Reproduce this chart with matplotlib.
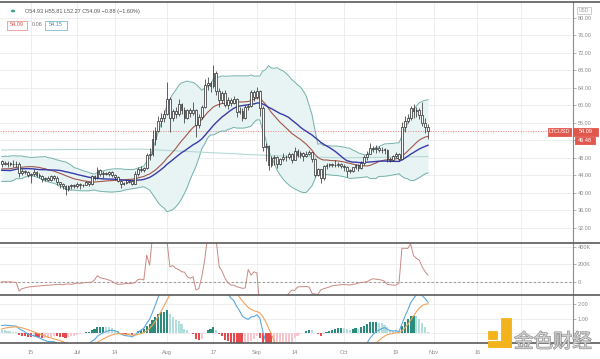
import numpy as np
import pandas as pd
import matplotlib
matplotlib.use("Agg")
import matplotlib.pyplot as plt
import matplotlib.patheffects as pe
from matplotlib.lines import Line2D
from matplotlib.patches import Rectangle, Circle

plt.rcParams['font.family'] = ['Liberation Sans', 'DejaVu Sans']

# daily LTCUSD candles, 2020-06-05 .. 2020-10-30
start_date = "2020-06-05"

# closes before the first candle, only used to warm up the indicators (not drawn)
warmup_close = [45.5, 47.6, 47.6, 46.9, 42.1, 41.5, 42.6, 44.1, 44.8, 43.3,
                45.2, 46.0, 46.9, 45.8, 44.0, 43.0, 44.8, 44.5, 43.2, 43.8,
                43.5, 45.4, 46.0, 45.2, 47.0, 45.5, 48.0, 46.0, 46.8, 47.3]

close = [
    # Jun 5-30
    46.6, 46.9, 46.6, 46.6, 46.5, 46.7, 44.6, 45.0, 44.8, 44.2, 44.3, 44.8, 44.2,
    43.9, 43.2, 43.3, 43.0, 43.8, 43.4, 42.4, 42.0, 41.6, 40.8, 41.5, 41.8, 41.5,
    # Jul
    42.0, 41.7, 41.9, 42.4, 42.1, 43.9, 43.4, 45.2, 44.4, 44.6, 44.3, 44.7, 44.0,
    43.6, 42.8, 42.0, 42.2, 42.5, 42.7, 42.1, 44.4, 45.4, 45.2, 45.6, 48.6, 48.8,
    52.4, 54.2, 56.4, 57.0, 58.0,
    # Aug
    61.4, 57.0, 58.6, 57.9, 60.2, 58.9, 57.2, 58.9, 58.2, 58.9, 55.6, 57.4, 59.6,
    64.6, 65.2, 64.5, 67.4, 63.2, 61.2, 62.8, 60.1, 61.2, 60.6, 61.4, 58.5, 58.8,
    57.2, 59.5, 59.8, 63.0, 61.8,
    # Sep
    63.3, 59.4, 50.4, 50.6, 46.3, 47.9, 48.1, 46.6, 47.7, 48.3, 48.1, 48.9, 47.6,
    49.6, 48.7, 49.0, 48.4, 48.9, 49.3, 47.7, 44.2, 45.4, 43.3, 46.1, 46.4, 46.6,
    46.4, 46.3, 46.7, 46.2,
    # Oct
    45.9, 45.1, 45.0, 45.8, 46.4, 45.6, 46.9, 48.1, 48.9, 50.3, 50.0, 50.2, 49.7,
    49.9, 49.8, 47.8, 47.5, 48.4, 48.9, 47.8, 55.1, 56.5, 57.2, 59.3, 58.6, 59.0,
    57.8, 56.0, 54.97, 54.09,
]
high = [
    47.6, 47.3, 47.2, 47.0, 47.4, 47.2, 47.0, 45.5, 45.3, 45.0, 44.6, 45.5, 45.0,
    44.5, 44.2, 43.6, 43.8, 44.2, 44.0, 43.8, 42.6, 42.2, 41.9, 41.8, 42.1, 42.0,
    42.4, 42.3, 42.1, 42.7, 42.5, 44.2, 44.0, 45.8, 45.4, 44.9, 44.8, 45.0, 44.9,
    44.4, 43.8, 42.9, 42.6, 42.9, 43.0, 42.8, 44.9, 45.8, 46.2, 46.0, 49.2, 50.2,
    54.3, 55.0, 57.5, 58.2, 59.0,
    65.3, 62.0, 59.2, 59.5, 61.4, 60.6, 59.5, 59.2, 59.4, 60.8, 59.2, 57.9, 60.0,
    66.0, 66.5, 65.6, 69.2, 67.9, 64.0, 63.2, 63.4, 61.8, 61.6, 62.2, 61.6, 59.6,
    59.4, 60.0, 60.4, 63.6, 63.6,
    64.2, 63.5, 59.8, 51.4, 50.9, 48.4, 48.6, 48.4, 48.0, 49.2, 48.7, 49.3, 49.0,
    50.4, 50.0, 49.5, 49.3, 49.5, 49.9, 49.4, 48.0, 45.6, 45.5, 46.4, 46.9, 46.9,
    46.9, 47.4, 47.0, 46.9,
    46.7, 46.1, 45.5, 46.0, 46.7, 46.6, 47.3, 48.6, 49.6, 51.4, 50.6, 50.9, 50.6,
    50.4, 50.3, 50.1, 48.1, 48.7, 49.3, 49.1, 56.1, 57.5, 58.0, 59.8, 60.3, 59.6,
    59.4, 60.8, 57.2, 55.81,
]
low = [
    46.0, 46.3, 45.9, 46.1, 45.8, 45.9, 43.6, 44.0, 44.3, 43.6, 42.2, 43.8, 43.7,
    43.4, 42.6, 42.7, 42.7, 42.8, 43.0, 41.8, 41.2, 40.8, 39.6, 40.5, 41.0, 41.1,
    41.2, 41.0, 41.4, 41.7, 41.5, 41.9, 43.0, 43.2, 43.9, 43.5, 44.0, 43.9, 43.6,
    43.0, 42.5, 41.2, 41.7, 42.0, 42.2, 41.9, 42.0, 43.9, 44.8, 44.7, 45.4, 47.6,
    48.5, 50.9, 53.8, 55.0, 56.2,
    57.8, 54.0, 56.4, 57.0, 57.5, 58.1, 56.0, 56.8, 57.3, 57.8, 52.8, 54.8, 56.8,
    59.3, 63.6, 63.0, 64.0, 62.4, 59.6, 60.6, 59.5, 59.2, 59.8, 60.2, 57.4, 58.0,
    56.4, 56.9, 59.0, 59.5, 61.0,
    61.4, 57.6, 49.6, 47.2, 45.2, 45.8, 46.3, 45.6, 46.4, 47.3, 47.2, 47.8, 46.9,
    47.4, 48.3, 48.0, 47.3, 48.1, 48.6, 47.1, 43.6, 43.8, 42.2, 42.9, 45.4, 46.0,
    45.8, 45.9, 45.8, 45.7,
    45.1, 43.6, 44.6, 44.8, 45.5, 45.0, 45.5, 46.4, 47.6, 48.8, 49.4, 49.0, 49.3,
    49.0, 48.8, 47.0, 47.1, 47.3, 48.0, 47.2, 47.6, 54.0, 56.0, 56.6, 57.2, 57.4,
    56.8, 55.2, 53.6, 52.27,
]

# slow moving average (pale line), read at a few dates: day index, price
slow_ma_idx = [0, 48, 90, 117, 138, 147]
slow_ma_val = [49.8, 50.0, 48.6, 48.0, 48.2, 48.3]

# second pane oscillator, thousands
osc_k = [
    0, 0, -2, 0, -5, -10, -107, -80, -70, -62,
    -57, -55, -50, -48, -45, -42, -40, -38, -35, -30,
    -30, -34, -28, -25, -30, -22, -15, -19, -12, -10,
    -8, -5, 20, 69, 45, 38, 30, 19, 5, -15,
    -30, -28, -25, -19, -22, -19, -10, 25, 30, 20,
    305, 190, 520, 700, 780, 720, 600, 460, 171, 185,
    153, 140, 114, 110, 57, 39, 57, -95, -76, 57,
    250, 520, 700, 600, 460, 171, 120, 39, -10, -38,
    -40, -57, -65, -76, -70, 140, 76, 114, 100, -300,
    -500, -600, -550, -500, -450, -400, -300, -220, -170, -133,
    -95, -100, -60, -57, -57, -55, -60, -133, -140, -145,
    -95, -80, -70, -60, -46, -42, -38, -35, -30, -35,
    -38, -30, -25, -15, -8, -5, 0, 20, 34, 30,
    25, 19, 5, -30, -35, -38, -38, -19, 382, 382,
    380, 430, 300, 267, 248, 171, 114, 76,
]

tick_dates = ["2020-06-15", "2020-07-01", "2020-07-14", "2020-08-01", "2020-08-17",
              "2020-09-01", "2020-09-14", "2020-10-01", "2020-10-19", "2020-11-01",
              "2020-11-16", "2020-12-01"]
# the "Dec" label sits under the watermark in the reference
tick_labels = ["15", "Jul", "14", "Aug", "17", "Sep", "14", "Oct", "19", "Nov", "16", ""]

# ---- indicators
n = len(close)
idx = np.arange(n)
opens = [warmup_close[-1]] + close[:-1]
allc = pd.Series(warmup_close + close)
w = len(warmup_close)
basis = allc.rolling(20, min_periods=1).mean()
dev = allc.rolling(20, min_periods=1).std(ddof=0)
upper = (basis + 2 * dev).values[w:]
lower = (basis - 2 * dev).values[w:]
basis = basis.values[w:]
ma30 = allc.rolling(30, min_periods=1).mean().values[w:]
ema12 = allc.ewm(span=12, adjust=False).mean()
ema26 = allc.ewm(span=26, adjust=False).mean()
macd = ema12 - ema26
signal = macd.ewm(span=9, adjust=False).mean()
hist = (macd - signal).values[w:]
macd = macd.values[w:]
signal = signal.values[w:]

t0 = pd.Timestamp(start_date)
tick_pos = [(pd.Timestamp(d) - t0).days for d in tick_dates]

# ---- figure layout in pixels
W, H = 600, 359
fig = plt.figure(figsize=(6, 3.59), dpi=100)

def px_axes(x0, y0, x1, y1):
    return fig.add_axes([x0 / W, 1 - y1 / H, (x1 - x0) / W, (y1 - y0) / H])

ax = px_axes(0, 2, 573, 243.3)
ax_osc = px_axes(0, 243.3, 573, 295.3)
ax_macd = px_axes(0, 295.3, 573, 343)

xlim = (-0.59, 197)
grid_c = '#ebebeb'
lab_c = '#8a8a8a'
for a in (ax, ax_osc, ax_macd):
    a.set_xlim(*xlim)
    for s in ('top', 'left', 'bottom'):
        a.spines[s].set_visible(False)
    a.spines['right'].set_color('#8c8c8c')
    a.spines['right'].set_linewidth(0.8)
    a.yaxis.tick_right()
    a.tick_params(axis='y', length=2, width=0.5, color='#999999', labelsize=4,
                  labelcolor=lab_c, pad=1.5)
    a.set_xticks(tick_pos)
    a.tick_params(axis='x', length=0, labelsize=4, labelcolor=lab_c, pad=5)
    a.grid(color=grid_c, linewidth=0.6)
    a.set_axisbelow(True)
ax.set_xticklabels([])
ax_osc.set_xticklabels([])
ax_macd.set_xticklabels(tick_labels)

# ---- price pane
ax.set_ylim(60 - (243.3 - 105.3) / 4.38, 60 + (105.3 - 2) / 4.38)
yt = np.arange(32, 81, 4)
ax.set_yticks(yt)
ax.set_yticklabels(["%.2f" % v for v in yt])

ax.fill_between(idx, lower, upper, color='#e8f4f4', zorder=1, linewidth=0)
ax.plot(idx, upper, color='#74b1aa', lw=0.7, zorder=2)
ax.plot(idx, lower, color='#74b1aa', lw=0.7, zorder=2)
ax.plot(slow_ma_idx, slow_ma_val, color='#b5d8d4', lw=0.8, zorder=2)
ax.plot(idx, basis, color='#a0564c', lw=0.8, zorder=2)
ax.plot(idx, ma30, color='#3a3aa8', lw=1.0, zorder=2)
ax.axhline(close[-1], color='#e88a84', lw=0.6, ls=(0, (1.5, 1.5)), zorder=1.5)

o = np.array(opens)
c = np.array(close)
body_lo = np.minimum(o, c)
body_h = np.maximum(np.abs(c - o), 0.12)
ax.vlines(idx, low, high, color='#262626', lw=0.5, zorder=3)
ax.bar(idx, body_h, bottom=body_lo, width=0.62, facecolor='white',
       edgecolor='#262626', linewidth=0.5, zorder=4)

# ---- oscillator pane
ax_osc.set_ylim(-155, 439)
ax_osc.set_yticks([0, 200, 400])
ax_osc.set_yticklabels(["0", "200K", "400K"])
ax_osc.axhline(0, color='#9a9a9a', lw=0.8, ls=(0, (2, 2)), zorder=1)
ax_osc.plot(idx, osc_k, color='#c98a84', lw=0.7, zorder=2)

# ---- MACD pane
ax_macd.set_ylim(-0.69, 2.62)
ax_macd.set_yticks([0, 1, 2])
ax_macd.set_yticklabels(["0.00", "1.00", "2.00"])
prev = np.concatenate([[hist[0]], hist[:-1]])
cols = []
for h, p in zip(hist, prev):
    if h >= 0:
        cols.append('#2b8c7c' if h > p else '#b2dfdb')
    else:
        cols.append('#f7c5cb' if h > p else '#e5484d')
ax_macd.bar(idx, hist, width=0.75, color=cols, zorder=2)
ax_macd.plot(idx, macd, color='#5aa8de', lw=0.8, zorder=3)
ax_macd.plot(idx, signal, color='#f0a35a', lw=0.8, zorder=3)

# ---- separators and frame
for yy in (1.5, 243.3, 295.3, 343):
    fig.add_artist(Line2D([0, 1], [1 - yy / H] * 2, transform=fig.transFigure,
                          color='#5a5a5a', lw=1.2, zorder=5))

def fbox(x0, y0, x1, y1, fc, ec=None, lw=0.6):
    fig.add_artist(Rectangle((x0 / W, 1 - y1 / H), (x1 - x0) / W, (y1 - y0) / H,
                             transform=fig.transFigure, facecolor=fc,
                             edgecolor=ec if ec else fc, lw=lw, zorder=6))

def ftext(x, y, s, **kw):
    kw.setdefault('fontsize', 4)
    kw.setdefault('va', 'center')
    fig.text(x / W, 1 - y / H, s, zorder=7, **kw)

# legend row
fig.add_artist(Circle((13 / W, 1 - 11 / H), 2.2 / W, transform=fig.transFigure,
                      facecolor='#3e9c8d', edgecolor='none', zorder=6))
ftext(25, 11.5, "O54.93 H55.81 L52.27 C54.09 \u22120.88 (\u22121.60%)", color='#555555')
fbox(6.7, 20.5, 27.3, 29.5, 'white', '#e39a93', 0.6)
ftext(17, 25, "54.09", color='#d2564c', ha='center')
ftext(37, 25, "0.06", color='#777777', ha='center')
fbox(45, 20.5, 66.7, 29.5, 'white', '#7cb9cf', 0.6)
ftext(55.8, 25, "54.15", color='#3f93b5', ha='center')

# price scale labels
fbox(577, 7.3, 591, 14, 'white', '#bbbbbb', 0.5)
ftext(584, 10.7, "USD", color='#999999', ha='center', fontsize=3.5)
red = '#e0574c'
fbox(547.7, 128, 570.7, 135.7, red)
ftext(559.2, 131.9, "LTCUSD", color='white', ha='center')
fbox(573.3, 128, 598, 135.7, red)
ftext(585.6, 131.9, "54.09", color='white', ha='center')
fbox(575, 137.3, 595, 144.3, red)
ftext(585, 140.8, "49.48", color='white', ha='center')

# watermark
gold = '#f2b31c'
fbox(488, 331, 497, 339, gold)
fbox(501, 318, 511, 347, gold)
fbox(488, 340.5, 511, 347, gold)
fig.text(553 / W, 1 - 342 / H, "金色财经", fontsize=14, ha='center', va='center',
         color='#d0d0d0', family=['Noto Sans CJK SC', 'DejaVu Sans'], zorder=7,
         path_effects=[pe.withStroke(linewidth=0.9, foreground='#8f8f8f')])

fig.savefig("out.png", dpi=100)
